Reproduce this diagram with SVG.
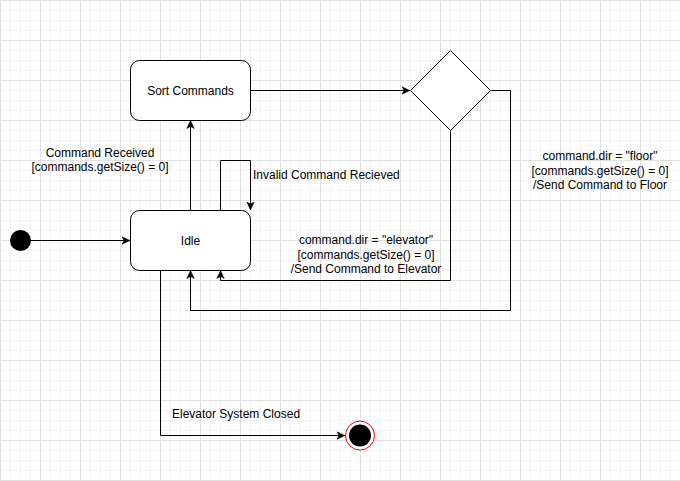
<svg xmlns="http://www.w3.org/2000/svg" width="680" height="481" viewBox="0 0 680 481">
  <style>
    .state { fill: #ffffff; stroke: #000000; stroke-width: 1; }
    .edge { fill: none; stroke: #000000; stroke-width: 1; }
    .arrow { marker-end: url(#arrowhead); }
    text { font-family: "Liberation Sans", Arial, sans-serif; font-size: 12px; fill: #000000; }
    .mid { text-anchor: middle; }
  </style>
  <defs>
    <!-- 10px minor grid with a stronger line every 40px -->
    <pattern id="grid" width="40" height="40" patternUnits="userSpaceOnUse">
      <path d="M10.5,0 V40 M20.5,0 V40 M30.5,0 V40 M0,10.5 H40 M0,20.5 H40 M0,30.5 H40" fill="none" stroke="#f3f3f3" stroke-width="1"/>
      <path d="M0.5,0 V40 M0,0.5 H40" fill="none" stroke="#e0e0e0" stroke-width="1"/>
    </pattern>
    <marker id="arrowhead" markerUnits="userSpaceOnUse" markerWidth="9" markerHeight="9" viewBox="0 0 9 9" refX="8" refY="4.5" orient="auto">
      <path d="M0,0.8 L8,4.5 L0,8.2 L2,4.5 Z" fill="#000000" stroke="#000000" stroke-width="0.5"/>
    </marker>
  </defs>

  <rect width="680" height="481" fill="#ffffff"/>
  <rect width="680" height="481" fill="url(#grid)"/>

  <g id="connectors">
    <!-- start -> Idle -->
    <path class="edge arrow" d="M30,240.5 H130"/>
    <!-- Idle -> Sort Commands -->
    <path class="edge arrow" d="M190.5,210 V120.5"/>
    <!-- invalid command self loop -->
    <path class="edge arrow" d="M220.5,210 V160.5 H250.5 V210"/>
    <!-- Sort Commands -> choice -->
    <path class="edge arrow" d="M250.5,90.5 H410"/>
    <!-- choice -> Idle (elevator) -->
    <path class="edge arrow" d="M450.5,130.5 V280.5 H220.5 V270.5"/>
    <!-- choice -> Idle (floor) -->
    <path class="edge arrow" d="M490.5,90.5 H510.5 V310.5 H190.5 V270.5"/>
    <!-- Idle -> end -->
    <path class="edge arrow" d="M160.5,270.5 V435.5 H345"/>

    <text class="mid" x="100" y="157">Command Received</text>
    <text class="mid" x="100" y="171.4">[commands.getSize() = 0]</text>
    <text x="253" y="179">Invalid Command Recieved</text>
    <text class="mid" x="366" y="244.4">command.dir = "elevator"</text>
    <text class="mid" x="366" y="258.8">[commands.getSize() = 0]</text>
    <text class="mid" x="366" y="273.2">/Send Command to Elevator</text>
    <text class="mid" x="600" y="160.4">command.dir = "floor"</text>
    <text class="mid" x="600" y="174.8">[commands.getSize() = 0]</text>
    <text class="mid" x="600" y="189.2">/Send Command to Floor</text>
    <text x="172" y="418.4">Elevator System Closed</text>
  </g>

  <g id="start">
    <circle cx="20.5" cy="240.5" r="10.5" fill="#000000"/>
  </g>

  <g id="idle">
    <rect class="state" x="130.5" y="210.5" width="120" height="60" rx="9" ry="9"/>
    <text class="mid" x="190.5" y="244.5">Idle</text>
  </g>

  <g id="sort-commands">
    <rect class="state" x="130.5" y="60.5" width="120" height="60" rx="9" ry="9"/>
    <text class="mid" x="190.5" y="94.5">Sort Commands</text>
  </g>

  <g id="choice">
    <polygon class="state" points="450.5,50.5 490.5,90.5 450.5,130.5 410.5,90.5"/>
  </g>

  <g id="end">
    <circle cx="360" cy="435.5" r="14.5" fill="#ffffff" stroke="#ff0000" stroke-width="1"/>
    <circle cx="360" cy="435.5" r="11" fill="#000000"/>
  </g>
</svg>
